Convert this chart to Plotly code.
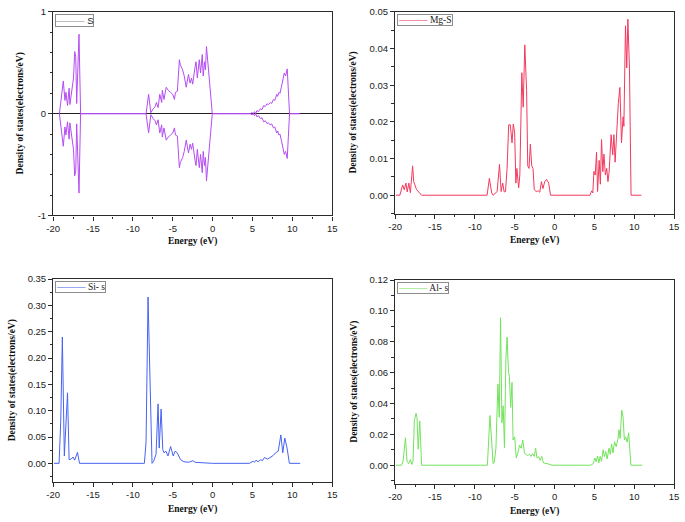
import plotly.graph_objects as go

# ---------------- data ----------------
S_E = [-19.22, -19.02, -18.73, -18.52, -18.4, -18.2, -18.0, -17.9, -17.66, -17.45, -17.3, -17.17, -17.05, -16.76, -16.56,
       -8.35, -8.03, -7.75, -7.45, -7.21, -7.05, -6.84, -6.63, -6.39, -6.31, -6.1, -5.82, -5.58, -5.28, -5.0,
       -4.79, -4.66, -4.42, -4.17, -4.05, -3.76, -3.56, -3.31, -3.03, -2.82, -2.65, -2.5, -2.2, -2.08, -1.92,
       -1.8, -1.67, -1.51, -1.4, -1.3, -1.18, -1.02, -0.9, -0.77, -0.04,
       4.76, 4.95, 5.1, 5.25, 5.4, 5.55, 5.75, 5.99, 6.2, 6.4, 6.6, 6.81, 7.0, 7.22, 7.4, 7.63, 7.8, 8.04, 8.15,
       8.33, 8.45, 8.62, 8.83, 8.99, 9.15, 9.36, 9.65, 10.88]
S_up = [0, 0.11, 0.32, 0.13, 0.21, 0.08, 0.25, 0.09, 0.25, 0.35, 0.61, 0.56, 0.1, 0.78, 0,
        0, 0.19, 0.01, 0.048, 0.07, 0.11, 0.06, 0.19, 0.11, 0.23, 0.14, 0.26, 0.23, 0.21, 0.19,
        0.14, 0.21, 0.22, 0.53, 0.48, 0.43, 0.37, 0.26, 0.385, 0.30, 0.35, 0.29, 0.46, 0.51, 0.35,
        0.48, 0.53, 0.40, 0.56, 0.58, 0.37, 0.51, 0.43, 0.66, 0,
        0, 0.012, 0, 0.02, 0, 0.03, 0.02, 0.048, 0.04, 0.08, 0.07, 0.096, 0.09, 0.11, 0.10, 0.14, 0.13, 0.19, 0.17,
        0.21, 0.2, 0.26, 0.35, 0.40, 0.37, 0.44, 0, 0]
S_down = [-v for v in S_up]  # spin-down channel is the mirror image

MgS_E = [-19.9, -19.4, -19.05, -18.85, -18.64, -18.48, -18.27, -18.08, -17.8, -17.66, -17.3, -16.9, -16.67,
         -8.46, -8.17, -7.88, -7.7, -7.2, -6.9, -6.7, -6.5, -6.32, -6.15, -5.95, -5.75, -5.55, -5.33, -5.17,
         -5.0, -4.85, -4.72, -4.5, -4.35, -4.1, -3.93, -3.73, -3.5, -3.36, -3.2, -3.03, -2.86, -2.7, -2.54,
         -2.3, -2.05, -1.85, -1.64, -1.45, -1.23, -1.0, -0.73, -0.5,
         4.45, 4.66, 4.8, 4.94, 5.1, 5.27, 5.4, 5.6, 5.75, 5.9, 6.06, 6.2, 6.38, 6.55, 6.7, 6.85, 7.1, 7.3,
         7.45, 7.6, 7.8, 8.0, 8.2, 8.4, 8.6, 8.7, 8.9, 9.06, 9.2, 9.4, 9.6, 10.9]
MgS_dos = [0, 0, 0.0028, 0.0015, 0.0033, 0.0009, 0.0033, 0.0007, 0.008, 0.0037, 0.0015, 0.0004, 0,
           0, 0.0046, 0.0006, 0, 0.001, 0.0084, 0.001, 0.0033, 0.0009, 0.001, 0.0073, 0.0192, 0.0192, 0.0143, 0.0194,
           0.017, 0.0033, 0.0073, 0.002, 0.0055, 0.0334, 0.024, 0.041, 0.0285, 0.008, 0.0073, 0.0139, 0.008, 0.0073, 0.0015,
           0.001, 0.0012, 0.0008, 0.0037, 0.0018, 0.0037, 0.0043, 0.0033, 0,
           0, 0.0012, 0.0006, 0.0065, 0.0055, 0.0117, 0.001, 0.0095, 0.003, 0.0152, 0.0064, 0.0112, 0.0055, 0.0073,
           0.0037, 0.0064, 0.0165, 0.011, 0.0165, 0.009, 0.018, 0.025, 0.0294, 0.0143, 0.0214, 0.0188, 0.0462,
           0.0347, 0.048, 0.0347, 0, 0]

Si_E = [-19.9, -19.26, -19.05, -18.85, -18.6, -18.2, -18.0, -17.75, -17.5, -17.3, -16.95, -16.7,
        -8.56, -8.35, -8.1, -7.86, -7.6, -7.4, -7.1, -6.84, -6.7, -6.46, -6.25, -6.1, -5.85, -5.6, -5.27,
        -4.94, -4.7, -4.44, -4.25, -4.03, -3.6, -3.0, -2.47, -2.2, -1.2, 0.0,
        4.6, 5.1, 5.25, 5.44, 5.7, 6.05, 6.25, 6.5, 6.9, 7.3, 7.6, 7.9, 8.23, 8.56, 8.8, 9.05, 9.34, 9.63, 10.99]
Si_dos = [0, 0, 0.08, 0.24, 0.014, 0.134, 0.007, 0.008, 0.012, 0.006, 0.021, 0,
          0, 0.04, 0.316, 0.137, 0, 0.004, 0.017, 0.113, 0.029, 0.103, 0.026, 0.02, 0.023, 0.014, 0.032,
          0.014, 0.023, 0.02, 0.014, 0.007, 0.003, 0.002, 0.005, 0.002, 0.001, 0,
          0, 0.004, 0.002, 0.006, 0.003, 0.007, 0.005, 0.011, 0.008, 0.012, 0.015, 0.02, 0.023, 0.054, 0.02,
          0.048, 0.029, 0, 0]

Al_E = [-19.9, -19.2, -19.0, -18.7, -18.5, -18.3, -18.07, -17.9, -17.75, -17.58, -17.37, -17.25, -17.1, -16.9, -16.67,
        -8.42, -8.1, -7.88, -7.7, -7.55, -7.35, -7.1, -6.93, -6.77, -6.6, -6.44, -6.28, -6.1, -5.95, -5.78, -5.66,
        -5.5, -5.33, -5.2, -5.0, -4.8, -4.6, -4.39, -4.2, -3.98, -3.77, -3.56, -3.36, -3.15, -2.95, -2.75, -2.54,
        -2.37, -2.2, -2.0, -1.8, -1.6, -1.39, -0.9, -0.3,
        4.53, 4.86, 5.06, 5.23, 5.4, 5.56, 5.72, 5.9, 6.1, 6.26, 6.42, 6.6, 6.83, 7.0, 7.16, 7.33, 7.53, 7.74,
        7.94, 8.1, 8.23, 8.43, 8.6, 8.76, 8.92, 9.1, 9.3, 9.58, 11.0]
Al_dos = [0, 0, 0.0025, 0.0178, 0.0025, 0.001, 0.0036, 0.0005, 0.0025, 0.029, 0.0336, 0.031, 0.0104, 0.0286, 0,
          0, 0.0322, 0.011, 0.001, 0.002, 0.011, 0.0527, 0.031, 0.0956, 0.0275, 0.0385, 0.0114, 0.069, 0.083, 0.0607, 0.0576,
          0.0375, 0.0537, 0.0163, 0.0184, 0.0047, 0.0078, 0.0131, 0.011, 0.0163, 0.0078, 0.007, 0.0061, 0.0072, 0.0057, 0.0075, 0.0057,
          0.011, 0.0047, 0.0055, 0.0032, 0.0057, 0.0015, 0.001, 0,
          0, 0.001, 0.0047, 0.0022, 0.006, 0.0015, 0.0057, 0.0025, 0.01, 0.0055, 0.0089, 0.004, 0.011, 0.007,
          0.0138, 0.008, 0.0152, 0.012, 0.0167, 0.023, 0.0173, 0.0358, 0.031, 0.0163, 0.0184, 0.015, 0.021, 0, 0]

for a, b in [(S_E, S_up), (MgS_E, MgS_dos), (Si_E, Si_dos), (Al_E, Al_dos)]:
    assert len(a) == len(b), (len(a), len(b))

x_tickvals = [-20, -15, -10, -5, 0, 5, 10, 15]
x_ticklabels = ["-20", "-15", "-10", "-5", "0", "5", "10", "15"]
s_tickvals = [-1, 0, 1]
s_ticklabels = ["-1", "0", "1"]
legend_names = ["S", "Mg-S", "Si- s", "Al- s"]
x_title = "Energy (eV)"
y_title = "Density of states(electrons/eV)"

# ---------------- styling ----------------
W, H = 685, 522
C_S, C_MG, C_SI, C_AL = "#B44DF2", "#F23A5E", "#4763F0", "#72E35C"
FRAME = "#2b2b2b"
SANS = "Liberation Sans, Arial, sans-serif"
SERIF = "Liberation Serif, Times New Roman, serif"


def px_x(p):
    return p / W


def px_y(p):
    return 1 - p / H


# pixel boxes of the four plot frames: (left, right, top, bottom)
boxes = [(47, 331, 6, 214), (395, 679, 6, 212), (47, 331, 279, 486), (395, 679, 280, 488)]

fig = go.Figure()

fig.add_trace(go.Scatter(x=S_E, y=S_up, mode="lines", line=dict(color=C_S, width=1),
                         xaxis="x", yaxis="y", showlegend=False))
fig.add_trace(go.Scatter(x=S_E, y=S_down, mode="lines", line=dict(color=C_S, width=1),
                         xaxis="x", yaxis="y", showlegend=False))
fig.add_trace(go.Scatter(x=MgS_E, y=MgS_dos, mode="lines", line=dict(color=C_MG, width=1),
                         xaxis="x2", yaxis="y2", showlegend=False))
fig.add_trace(go.Scatter(x=Si_E, y=Si_dos, mode="lines", line=dict(color=C_SI, width=1),
                         xaxis="x3", yaxis="y3", showlegend=False))
fig.add_trace(go.Scatter(x=Al_E, y=Al_dos, mode="lines", line=dict(color=C_AL, width=1),
                         xaxis="x4", yaxis="y4", showlegend=False))

tickfont = dict(family=SANS, size=9.5, color="#222")

yspecs = [
    dict(range=[-1, 1], tickmode="array", tickvals=s_tickvals, ticktext=s_ticklabels,
         minor=dict(tickmode="linear", tick0=0, dtick=0.2, ticks="outside", ticklen=2.5, tickcolor=FRAME),
         zeroline=True, zerolinecolor="#222", zerolinewidth=1.3, layer="below traces"),
    dict(range=[-0.005, 0.05], tickmode="linear", tick0=0, dtick=0.01, tickformat=".2f",
         minor=dict(tickmode="linear", tick0=0, dtick=0.005, ticks="outside", ticklen=2.5, tickcolor=FRAME),
         zeroline=False),
    dict(range=[-0.035, 0.35], tickmode="linear", tick0=0, dtick=0.05, tickformat=".2f",
         minor=dict(tickmode="linear", tick0=0, dtick=0.025, ticks="outside", ticklen=2.5, tickcolor=FRAME),
         zeroline=False),
    dict(range=[-0.012, 0.12], tickmode="linear", tick0=0, dtick=0.02, tickformat=".2f",
         minor=dict(tickmode="linear", tick0=0, dtick=0.01, ticks="outside", ticklen=2.5, tickcolor=FRAME),
         zeroline=False),
]

layout = dict(width=W, height=H, margin=dict(l=0, r=0, t=0, b=0),
              paper_bgcolor="white", plot_bgcolor="white", showlegend=False)

annotations = []
legend_colors = ["#8a8a8a", C_MG, C_SI, C_AL]
legend_fonts = [SANS, SERIF, SERIF, SERIF]
ytitle_x = [14, 353, 6, 354]
xtitle_y = [241, 240, 514, 516]

for i, (l, r, t, b) in enumerate(boxes):
    sfx = "" if i == 0 else str(i + 1)
    xs = dict(
        domain=[px_x(l), px_x(r)], range=[-20, 15], anchor="y" + sfx,
        tickmode="array", tickvals=x_tickvals, ticktext=x_ticklabels,
        minor=dict(tickmode="linear", tick0=0, dtick=2.5, ticks="outside", ticklen=2.5, tickcolor=FRAME),
        ticks="outside", ticklen=4, tickcolor=FRAME, tickwidth=1,
        showline=True, linecolor=FRAME, linewidth=1.3, mirror=True,
        showgrid=False, zeroline=False, tickfont=tickfont, fixedrange=True)
    if i == 0:
        xs["layer"] = "below traces"
    layout["xaxis" + sfx] = xs
    ys = dict(domain=[px_y(b), px_y(t)], anchor="x" + sfx,
              ticks="outside", ticklen=4, tickcolor=FRAME, tickwidth=1,
              showline=True, linecolor=FRAME, linewidth=1.3, mirror=True,
              showgrid=False, tickfont=tickfont, fixedrange=True)
    ys.update(yspecs[i])
    layout["yaxis" + sfx] = ys

    # axis titles
    annotations.append(dict(text="<b>%s</b>" % x_title, xref="paper", yref="paper",
                            x=px_x((l + r) / 2), y=px_y(xtitle_y[i]), xanchor="center", yanchor="middle",
                            showarrow=False, font=dict(family=SERIF, size=9.5, color="#111")))
    annotations.append(dict(text="<b>%s</b>" % y_title, xref="paper", yref="paper",
                            x=px_x(ytitle_x[i]), y=px_y((t + b) / 2), xanchor="center", yanchor="middle",
                            textangle=-90, showarrow=False,
                            font=dict(family=SERIF, size=9.5, color="#111")))
    # legend box
    annotations.append(dict(
        text='<span style="color:%s">\u2014\u2014\u2014</span> %s' % (legend_colors[i], legend_names[i]),
        xref="paper", yref="paper", x=px_x(l + 2), y=px_y(t + 2), xanchor="left", yanchor="top",
        showarrow=False, bgcolor="white", bordercolor="#8c8c8c", borderwidth=1, borderpad=0,
        font=dict(family=legend_fonts[i], size=9.5, color="#222")))

layout["annotations"] = annotations
fig.update_layout(**layout)

fig.write_html("out.html", config={"displayModeBar": False},
               post_script="document.body.style.margin='0';document.body.style.padding='0';")
